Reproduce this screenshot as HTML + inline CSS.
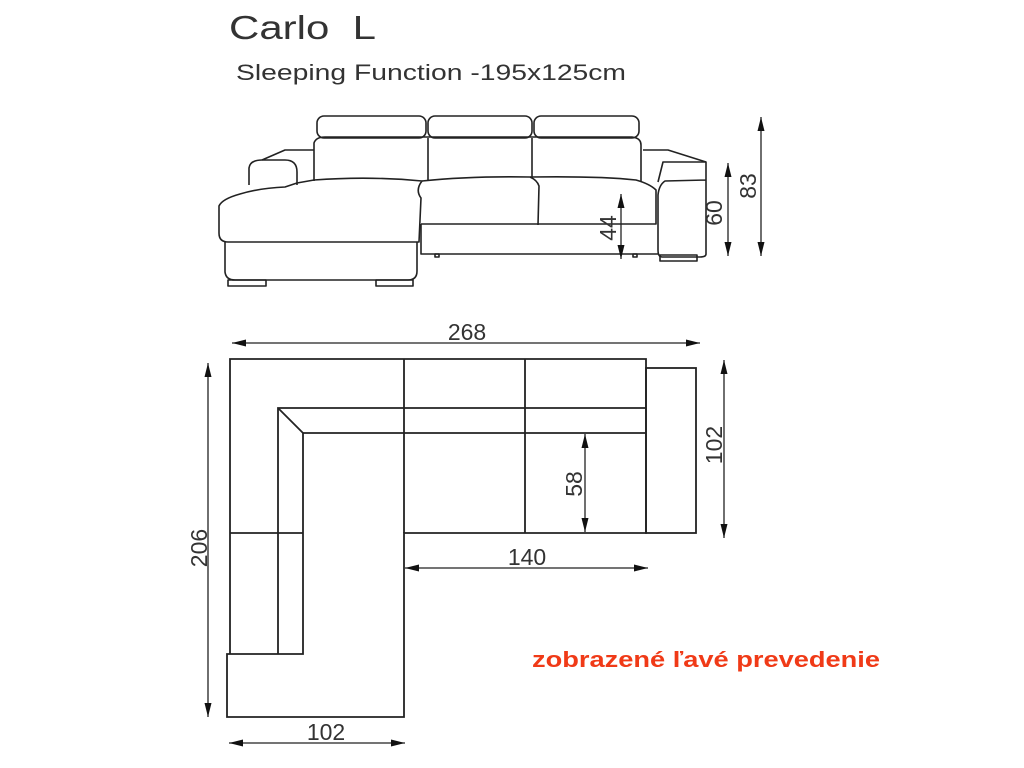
<!DOCTYPE html>
<html><head><meta charset="utf-8"><style>
html,body{margin:0;padding:0;background:#fff;width:1024px;height:768px;overflow:hidden}
svg{display:block}
text{font-family:"Liberation Sans",sans-serif;fill:#333}
</style></head><body>
<svg width="1024" height="768" viewBox="0 0 1024 768" xmlns="http://www.w3.org/2000/svg">
<defs>
<marker id="a" viewBox="0 0 14 10" refX="14" refY="5" markerWidth="14" markerHeight="10" orient="auto-start-reverse" markerUnits="userSpaceOnUse"><path d="M0,1.5 L14,5 L0,8.5 z" fill="#111"/></marker>
</defs>
<text x="229" y="39" font-size="33" textLength="147" lengthAdjust="spacingAndGlyphs" xml:space="preserve">Carlo  L</text>
<text x="236" y="80" font-size="22" textLength="390" lengthAdjust="spacingAndGlyphs">Sleeping Function -195x125cm</text>

<g fill="none" stroke="#222" stroke-width="1.6" stroke-linejoin="round">
<rect x="317" y="116" width="109" height="22" rx="7"/>
<rect x="428" y="116" width="104" height="22" rx="7"/>
<rect x="534" y="116" width="105" height="22" rx="7"/>
<path d="M314,181 L314,143 Q316,137 325,137 L632,137 Q641,138 641,145 L641,182"/>
<line x1="428" y1="138" x2="428" y2="180"/>
<line x1="532" y1="138" x2="532" y2="178"/>
<path d="M249,185 L249,168 Q250,160 262,160 L285,160 Q297,160 297,172 L297,185"/>
<path d="M262,160 L285,150 L314,150"/>
<path d="M314,180 Q370,176 422,181 Q415,190 421,198 L419,242 L228,242 Q219,242 219,233 L219,206 Q222,199 240,194 Q260,188 285,187 L297,183 Z"/>
<path d="M225,242 L225,272 Q226,280 235,280 L408,280 Q417,280 417,271 L417,242"/>
<rect x="228" y="280" width="38" height="6"/>
<rect x="376" y="280" width="37" height="6"/>
<path d="M422,181 Q470,176 530,177 Q537,180 539,186 L538,225"/>
<path d="M530,177 Q600,176 636,180 Q650,184 656,190 L656,224 L421,224"/>
<path d="M421,224 L421,254 L658,254"/>
<path d="M643,150 L668,150 L706,162 L706,254 Q706,257 700,257 L662,257 Q658,257 658,250 L658,195 Q659,185 665,181 L706,180"/>
<path d="M658,182 L663,162 L706,162"/>
<rect x="660" y="255" width="37" height="6"/>
<rect x="435" y="254" width="4" height="3"/>
<rect x="633" y="254" width="4" height="3"/>
</g>
<g stroke="#222" stroke-width="1.3" fill="none">
<line x1="621" y1="194" x2="621" y2="259" marker-start="url(#a)" marker-end="url(#a)"/>
<line x1="728" y1="163" x2="728" y2="256" marker-start="url(#a)" marker-end="url(#a)"/>
<line x1="761" y1="117" x2="761" y2="256" marker-start="url(#a)" marker-end="url(#a)"/>
</g>
<text transform="translate(616,228) rotate(-90)" font-size="23" text-anchor="middle">44</text>
<text transform="translate(722,213) rotate(-90)" font-size="23" text-anchor="middle">60</text>
<text transform="translate(756,186) rotate(-90)" font-size="23" text-anchor="middle">83</text>

<g fill="none" stroke="#222" stroke-width="1.8">
<path d="M230,654 L230,359 L646,359 L646,533 L404,533 L404,717 L227,717 L227,654 L303,654 L303,433 L646,433"/>
<path d="M278,654 L278,408 L646,408"/>
<line x1="278" y1="408" x2="303" y2="433"/>
<line x1="230" y1="533" x2="303" y2="533"/>
<line x1="404" y1="359" x2="404" y2="533"/>
<line x1="525" y1="359" x2="525" y2="533"/>
<rect x="646" y="368" width="50" height="165"/>
</g>
<g stroke="#222" stroke-width="1.3" fill="none">
<line x1="232" y1="343" x2="700" y2="343" marker-start="url(#a)" marker-end="url(#a)"/>
<line x1="208" y1="363" x2="208" y2="717" marker-start="url(#a)" marker-end="url(#a)"/>
<line x1="724" y1="360" x2="724" y2="538" marker-start="url(#a)" marker-end="url(#a)"/>
<line x1="585" y1="434" x2="585" y2="532" marker-start="url(#a)" marker-end="url(#a)"/>
<line x1="405" y1="568" x2="648" y2="568" marker-start="url(#a)" marker-end="url(#a)"/>
<line x1="229" y1="743" x2="405" y2="743" marker-start="url(#a)" marker-end="url(#a)"/>
</g>
<text x="467" y="340" font-size="23" text-anchor="middle">268</text>
<text transform="translate(207,548) rotate(-90)" font-size="23" text-anchor="middle">206</text>
<text transform="translate(722,445) rotate(-90)" font-size="23" text-anchor="middle">102</text>
<text transform="translate(582,484) rotate(-90)" font-size="23" text-anchor="middle">58</text>
<text x="527" y="565" font-size="23" text-anchor="middle">140</text>
<text x="326" y="740" font-size="23" text-anchor="middle">102</text>
<text x="532" y="667" font-size="22" font-weight="bold" style="fill:#f03a17" textLength="348" lengthAdjust="spacingAndGlyphs">zobrazené ľavé prevedenie</text>
</svg>
</body></html>
